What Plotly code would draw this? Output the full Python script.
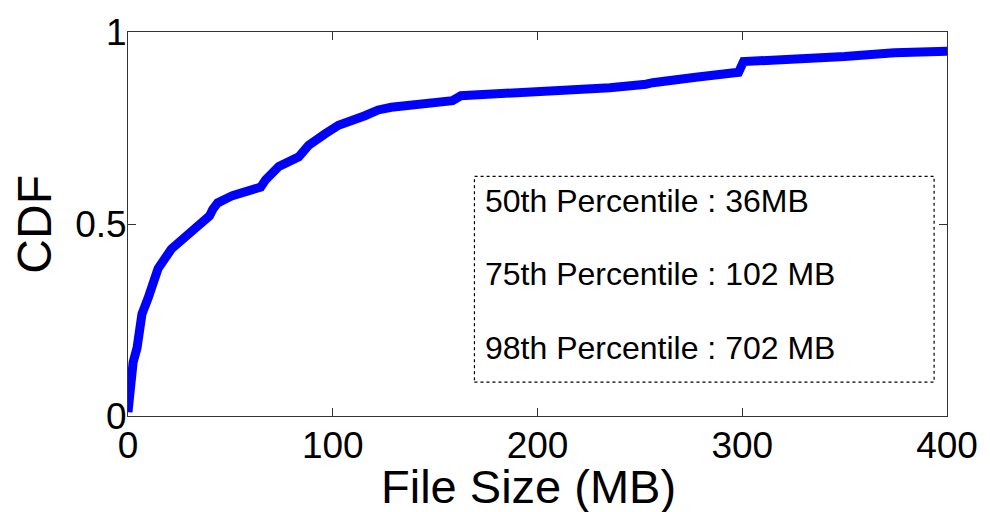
import plotly.graph_objects as go

# File size (MB) and CDF values
file_size_mb = [0, 0.5, 1, 2.5, 4.4, 6.8, 9.8, 14.7, 21.2, 29.2, 35.7, 39.8, 41.4, 43.8,
                51, 58.3, 62.4, 64.8, 67.2, 73.7, 83.4, 88.2, 96.3, 102.8, 115.7, 122.2,
                128.6, 141.6, 158.5, 162.6, 186.8, 211, 235.3, 253, 256.3, 277.3, 298.2,
                300.6, 325.8, 350, 374.3, 398.5, 402]
cdf = [0.01, 0.04, 0.093, 0.14, 0.177, 0.265, 0.307, 0.384, 0.435, 0.47, 0.5, 0.521, 0.538,
       0.555, 0.574, 0.583, 0.592, 0.596, 0.615, 0.65, 0.675, 0.705, 0.735, 0.757, 0.782,
       0.797, 0.804, 0.81, 0.821, 0.834, 0.84, 0.847, 0.855, 0.864, 0.868, 0.882, 0.895,
       0.923, 0.928, 0.936, 0.946, 0.949, 0.95]

x_ticks = [0, 100, 200, 300, 400]
y_ticks = [0, 0.5, 1]
y_tick_labels = ["0", "0.5", "1"]

box_lines = ["50th Percentile : 36MB", "75th Percentile : 102 MB", "98th Percentile : 702 MB"]
box_line_y = [0.560, 0.370, 0.177]

FONT = "Liberation Sans, Arial, sans-serif"

fig = go.Figure()
fig.add_trace(go.Scatter(
    x=file_size_mb, y=cdf, mode="lines",
    line=dict(color="#0000ff", width=9),
    showlegend=False,
))

# dotted annotation box
fig.add_shape(type="rect", xref="x", yref="y", x0=169.2, x1=393.7, y0=0.088, y1=0.624,
              line=dict(color="black", width=1.2, dash="dot"), fillcolor="white", layer="above")
for txt, yy in zip(box_lines, box_line_y):
    fig.add_annotation(x=173.5, y=yy, xref="x", yref="y", text=txt, showarrow=False,
                       xanchor="left", yanchor="middle",
                       font=dict(family=FONT, size=32, color="black"))

axis_common = dict(
    showgrid=False, zeroline=False, showline=True, linecolor="#333333", linewidth=1,
    ticks="inside", ticklen=8, tickcolor="#333333", mirror="ticks",
)

fig.update_xaxes(range=[0, 400], tickvals=x_ticks, ticktext=[str(v) for v in x_ticks],
                 tickfont=dict(family=FONT, size=37, color="black"),
                 ticklabelstandoff=-3, **axis_common)
fig.update_yaxes(range=[0, 1], tickvals=y_ticks, ticktext=y_tick_labels,
                 tickfont=dict(family=FONT, size=37, color="black"),
                 ticklabelstandoff=-7, **axis_common)

# axis titles
fig.add_annotation(x=(531 - 128) / 825, y=-(487 - 416) / 389, xref="paper", yref="paper",
                   text="File Size (MB)", showarrow=False, xanchor="center", yanchor="middle",
                   font=dict(family=FONT, size=47, color="black"))
fig.add_annotation(x=-(128 - 33) / 825, y=0.5, xref="paper", yref="paper",
                   text="CDF", showarrow=False, xanchor="center", yanchor="middle",
                   textangle=-90, font=dict(family=FONT, size=48, color="black"))

fig.update_layout(
    width=990, height=512,
    margin=dict(l=128, r=37, t=27, b=96),
    paper_bgcolor="white", plot_bgcolor="white",
)

fig.write_html("out.html")
